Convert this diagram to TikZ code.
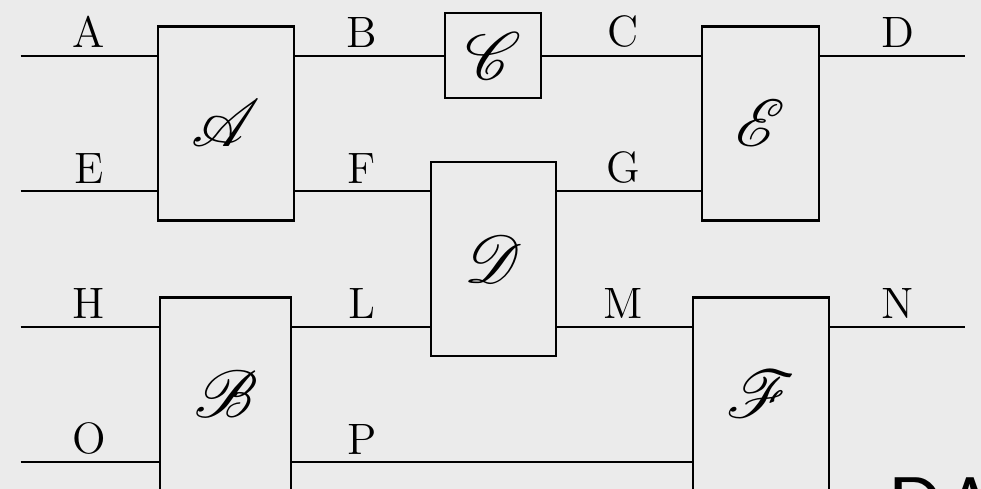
\documentclass[tikz,border=0pt]{standalone}
\usepackage{mathrsfs}
\DeclareFontFamily{U}{rsfs}{\skewchar\font127 }
\DeclareFontShape{U}{rsfs}{m}{n}{<-> rsfs10}{}
\definecolor{bgcol}{HTML}{EBEBEB}

\begin{document}
\begin{tikzpicture}[
    font=\fontsize{12.5}{15}\selectfont,
    line width=0.65pt,
    blk/.style={draw, inner sep=0pt, minimum height=1.94cm, font=\fontsize{19}{23}\selectfont},
    lbl/.style={anchor=south, inner sep=2pt},
  ]
    \fill[bgcol] (0,0) rectangle (9.81,-4.89);
    \useasboundingbox (0,0) rectangle (9.81,-4.89);

    \node[blk, minimum width=1.36cm] (bA) at (2.26,-1.234) {$\mathscr{A}$};
    \node[blk, minimum width=0.96cm, minimum height=0.85cm] (bC) at (4.93,-0.557) {$\mathscr{C}$};
    \node[blk, minimum width=1.17cm] (bE) at (7.605,-1.234) {$\mathscr{E}$};
    \node[blk, minimum width=1.25cm] (bD) at (4.934,-2.59) {$\mathscr{D}$};
    \node[blk, minimum width=1.31cm] (bB) at (2.257,-3.945) {$\mathscr{B}$};
    \node[blk, minimum width=1.36cm] (bF) at (7.608,-3.945) {$\mathscr{F}$};

    \node[lbl] (lA) at (0.89,-0.557) {A};
    \node[lbl] (lB) at (3.62,-0.557) {B};
    \node[lbl] (lC) at (6.235,-0.557) {C};
    \node[lbl] (lD) at (8.98,-0.557) {D};
    \node[lbl] (lE) at (0.89,-1.912) {E};
    \node[lbl] (lF) at (3.62,-1.912) {F};
    \node[lbl] (lG) at (6.235,-1.912) {G};
    \node[lbl] (lH) at (0.89,-3.267) {H};
    \node[lbl] (lL) at (3.62,-3.267) {L};
    \node[lbl] (lM) at (6.235,-3.267) {M};
    \node[lbl] (lN) at (8.98,-3.267) {N};
    \node[lbl] (lO) at (0.89,-4.622) {O};
    \node[lbl] (lP) at (3.62,-4.622) {P};

    \coordinate (wA) at (0.207,-0.557);
    \coordinate (wE) at (0.207,-1.912);
    \coordinate (wH) at (0.207,-3.267);
    \coordinate (wO) at (0.207,-4.622);
    \coordinate (wD) at (9.65,-0.557);
    \coordinate (wN) at (9.65,-3.267);

    \draw (wA) -- (lA.south) -- (lA.south -| bA.west);
    \draw (bA.east |- lB.south) -- (lB.south) -- (lB.south -| bC.west);
    \draw (bC.east |- lC.south) -- (lC.south) -- (lC.south -| bE.west);
    \draw (bE.east |- lD.south) -- (lD.south) -- (wD);

    \draw (wE) -- (lE.south) -- (lE.south -| bA.west);
    \draw (bA.east |- lF.south) -- (lF.south) -- (lF.south -| bD.west);
    \draw (bD.east |- lG.south) -- (lG.south) -- (lG.south -| bE.west);

    \draw (wH) -- (lH.south) -- (lH.south -| bB.west);
    \draw (bB.east |- lL.south) -- (lL.south) -- (lL.south -| bD.west);
    \draw (bD.east |- lM.south) -- (lM.south) -- (lM.south -| bF.west);
    \draw (bF.east |- lN.south) -- (lN.south) -- (wN);

    \draw (wO) -- (lO.south) -- (lO.south -| bB.west);
    \draw (bB.east |- lP.south) -- (lP.south) -- (lP.south -| bF.west);

    \node[font=\sffamily\fontsize{24.5}{30}\selectfont, anchor=base west, inner sep=0pt] (mark) at (8.86,-5.38) {DA};
\end{tikzpicture}
\end{document}
